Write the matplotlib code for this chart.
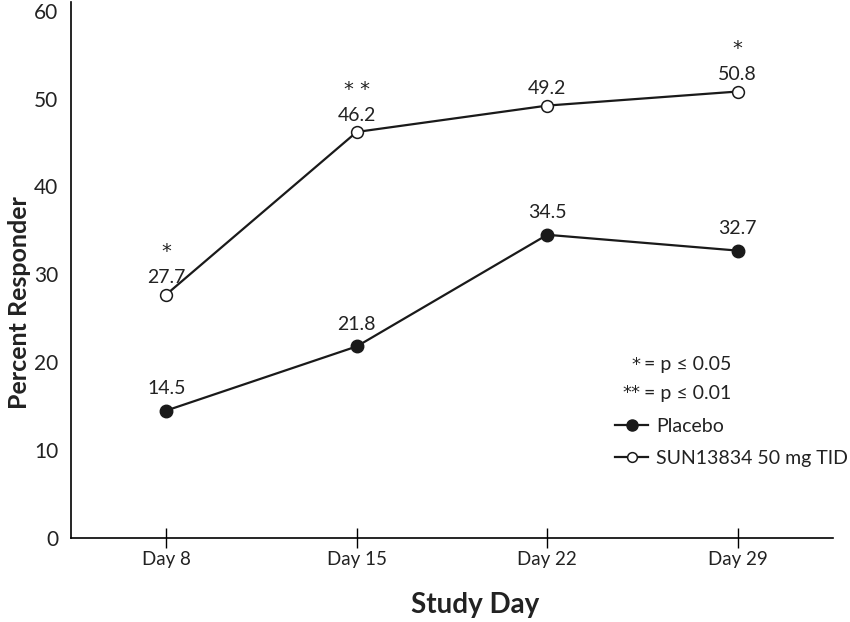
import matplotlib.pyplot as plt
from matplotlib.lines import Line2D

days = ['Day 8', 'Day 15', 'Day 22', 'Day 29']
placebo = [14.5, 21.8, 34.5, 32.7]
sun = [27.7, 46.2, 49.2, 50.8]
sun_stars = ['*', '* *', '', '*']

plt.rcParams['font.family'] = ['Lato', 'DejaVu Sans']
ink = '#222222'

fig = plt.figure(figsize=(8.5, 6.22), dpi=100)
ax = fig.add_axes([0.0835, 0.135, 0.8965, 0.862])

x = range(len(days))
ax.plot(x, placebo, color='#1a1a1a', lw=1.6, marker='o', ms=9,
        mfc='#1a1a1a', mec='#1a1a1a', label='Placebo')
ax.plot(x, sun, color='#1a1a1a', lw=1.6, marker='o', ms=8.5,
        mfc='white', mec='#1a1a1a', mew=1.1, label='SUN13834 50 mg TID')

for i, v in enumerate(placebo):
    ax.annotate(f'{v}', (i, v), xytext=(0, 10), textcoords='offset points',
                ha='center', va='bottom', fontsize=14, color=ink)
for i, v in enumerate(sun):
    ax.annotate(f'{v}', (i, v), xytext=(0, 6), textcoords='offset points',
                ha='center', va='bottom', fontsize=14, color=ink)
    if sun_stars[i]:
        ax.annotate(sun_stars[i], (i, v), xytext=(0, 24), textcoords='offset points',
                    ha='center', va='bottom', fontsize=14, color=ink,
                    family='DejaVu Sans')

ax.set_xlim(-0.5, 3.5)
ax.set_ylim(0, 61)
ax.set_xticks(list(x))
ax.set_xticklabels(days, fontsize=13.5, color=ink)
ax.set_yticks(range(0, 61, 10))
ax.tick_params(axis='y', length=0, labelsize=15, pad=9, labelcolor=ink)
ax.tick_params(axis='x', direction='inout', length=14, pad=2, width=1)
for s in ['top', 'right']:
    ax.spines[s].set_visible(False)
for s in ['left', 'bottom']:
    ax.spines[s].set_linewidth(1.2)

ax.set_xlabel('Study Day', fontsize=20, fontweight='bold', color=ink)
ax.set_ylabel('Percent Responder', fontsize=18, fontweight='bold', color=ink)
ax.xaxis.set_label_coords(0.53, -0.1)
ax.yaxis.set_label_coords(-0.052, 0.44)

ax.text(0.747, 0.323, '*', transform=ax.transAxes, fontsize=13,
        color=ink, va='center', ha='right', family='DejaVu Sans')
ax.text(0.752, 0.323, '= p \u2264 0.05', transform=ax.transAxes, fontsize=14,
        color=ink, va='center', ha='left')
ax.text(0.747, 0.27, '**', transform=ax.transAxes, fontsize=13,
        color=ink, va='center', ha='right', family='DejaVu Sans')
ax.text(0.752, 0.27, '= p \u2264 0.01', transform=ax.transAxes, fontsize=14,
        color=ink, va='center', ha='left')

handles = [
    Line2D([], [], color='#1a1a1a', lw=1.6, marker='o', ms=8, mfc='#1a1a1a'),
    Line2D([], [], color='#1a1a1a', lw=1.6, marker='o', ms=7, mfc='white', mew=1.1),
]
ax.legend(handles, ['Placebo', 'SUN13834 50 mg TID'], loc='upper left',
          bbox_to_anchor=(0.714, 0.224), frameon=False, fontsize=14, labelcolor=ink,
          handlelength=1.7, handletextpad=0.4, labelspacing=0.78, borderaxespad=0,
          borderpad=0)

fig.savefig('out.png', dpi=100)
